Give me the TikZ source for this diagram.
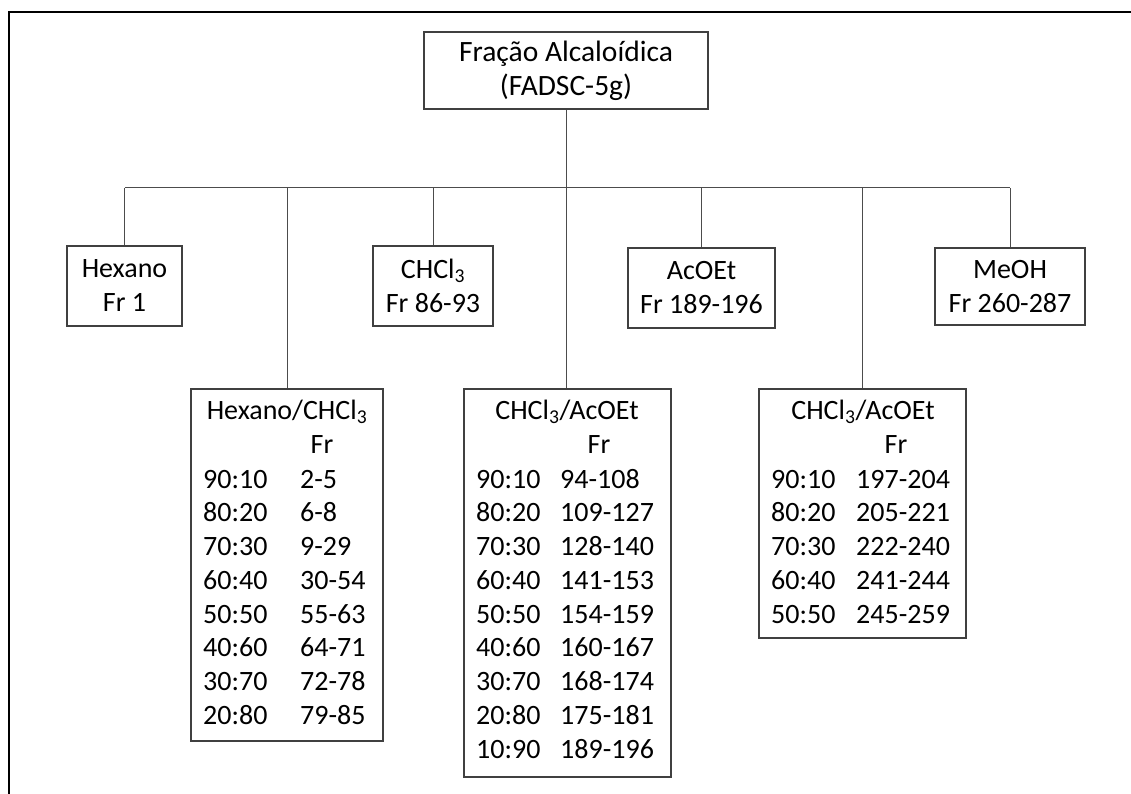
\documentclass[tikz,border=0pt]{standalone}
\usepackage{fontspec}
\setmainfont{Carlito}
\usepackage{tikz}

\tikzset{
  box/.style={draw=black!75,line width=1.1pt,inner sep=0pt,align=center},
  cell/.style={anchor=base west,inner sep=0pt},
  head/.style={anchor=base,inner sep=0pt},
  link/.style={draw=black!70,line width=1pt}
}

\begin{document}
\begin{tikzpicture}[x=1pt,y=-1pt,font=\fontsize{28}{34}\selectfont]
	\useasboundingbox (0,0) rectangle (1131,794);
	\draw[line width=1.5pt] (9,794) -- (9,12) -- (1131,12); % frame

	\node[box,minimum width=284pt,minimum height=77pt,font=\fontsize{29.5}{34}\selectfont] (top) at (566,70.5)
		{Fração Alcaloídica\\(FADSC-5g)};

	\node[box,minimum width=115pt,minimum height=80pt] (hex) at (124.5,286) {Hexano\\Fr 1};
	\node[box,minimum width=120pt,minimum height=80pt] (chcl) at (433,286) {CHCl\textsubscript{3}\\Fr 86-93};
	\node[box,minimum width=147pt,minimum height=80pt] (acoet) at (701.5,288) {AcOEt\\Fr 189-196};
	\node[box,minimum width=150pt,minimum height=77pt] (meoh) at (1010,286.5) {MeOH\\Fr 260-287};

	\node[box,minimum width=192pt,minimum height=352pt] (hexchcl) at (287,565) {};
	\node[box,minimum width=207pt,minimum height=388pt] (chacA) at (567.5,583) {};
	\node[box,minimum width=207pt,minimum height=249pt] (chacB) at (862.5,513.5) {};

	\node[head] (hexchclt) at (287,419) {Hexano/CHCl\textsubscript{3}};
	\node[head] (hexchclfr) at (322,453) {Fr};
	\node[head] (chacAt) at (567,419) {CHCl\textsubscript{3}/AcOEt};
	\node[head] (chacAfr) at (599,453) {Fr};
	\node[head] (chacBt) at (863,419) {CHCl\textsubscript{3}/AcOEt};
	\node[head] (chacBfr) at (896,453) {Fr};

	\foreach \mix/\fr [count=\i] in
	{90:10/2-5, 80:20/6-8, 70:30/9-29, 60:40/30-54,
	50:50/55-63, 40:60/64-71, 30:70/72-78, 20:80/79-85}
	{
		\node[cell] (hexm\i) at (203,{488+33.75*(\i-1)}) {\mix};
		\node[cell] (hexf\i) at (300,{488+33.75*(\i-1)}) {\fr};
	}

	\foreach \mix/\fr [count=\i] in
	{90:10/94-108, 80:20/109-127, 70:30/128-140, 60:40/141-153,
	50:50/154-159, 40:60/160-167, 30:70/168-174, 20:80/175-181, 10:90/189-196}
	{
		\node[cell] (chaAm\i) at (476,{488+33.75*(\i-1)}) {\mix};
		\node[cell] (chaAf\i) at (560,{488+33.75*(\i-1)}) {\fr};
	}

	\foreach \mix/\fr [count=\i] in
	{90:10/197-204, 80:20/205-221, 70:30/222-240, 60:40/241-244, 50:50/245-259}
	{
		\node[cell] (chaBm\i) at (771,{488+33.75*(\i-1)}) {\mix};
		\node[cell] (chaBf\i) at (856,{488+33.75*(\i-1)}) {\fr};
	}

	% tree
	\coordinate (bus) at (0,188);
	\draw[link] (hex.north |- bus) -- (meoh.north |- bus);
	\draw[link] (top.south) -- (top.south |- chacA.north);
	\foreach \n in {hex,hexchcl,chcl,acoet,chacB,meoh}
		\draw[link] (\n.north) -- (\n.north |- bus);
\end{tikzpicture}
\end{document}
